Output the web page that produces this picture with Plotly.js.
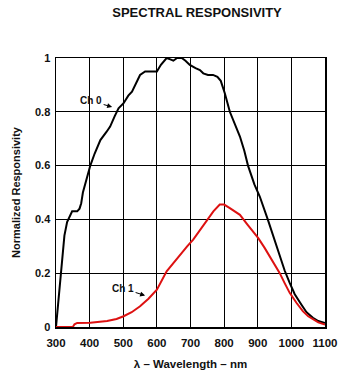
<!DOCTYPE html>
<html>
<head>
<meta charset="utf-8">
<script src="https://cdn.plot.ly/plotly-3.0.1.min.js"></script>
<style>html,body{margin:0;padding:0;background:#fff;}#chart{width:350px;height:378px;}</style>
</head>
<body>
<div id="chart"></div>
<script>
var ch0Wavelength = [300,305,310,315,320,325,333,340,348,355,363,370,375,380,390,402,415,432,450,461,475,486,501,515,526,540,550,565,580,600,612,629,640,649,660,674,685,698,715,728,738,752,767,780,790,802,817,832,847,860,871,890,906,930,950,965,980,995,1010,1030,1045,1064,1080,1100];
var ch0Response = [0,0.07,0.14,0.2,0.28,0.34,0.39,0.41,0.43,0.43,0.43,0.44,0.46,0.5,0.55,0.6,0.645,0.695,0.725,0.745,0.785,0.813,0.832,0.86,0.875,0.91,0.937,0.95,0.95,0.95,0.975,1.0,0.995,0.99,1.0,1.0,0.99,0.974,0.962,0.955,0.943,0.937,0.937,0.93,0.915,0.869,0.80,0.755,0.708,0.655,0.60,0.53,0.485,0.399,0.32,0.263,0.21,0.164,0.122,0.083,0.055,0.034,0.022,0.015];
var ch1Wavelength = [300,350,355,363,402,452,480,501,525,550,575,600,629,650,669,690,708,728,748,768,787,800,817,832,847,870,901,920,936,950,965,980,995,1015,1034,1050,1064,1080,1100];
var ch1Response = [0,0,0.01,0.015,0.016,0.022,0.03,0.04,0.055,0.077,0.105,0.139,0.207,0.24,0.27,0.3,0.325,0.36,0.399,0.43,0.455,0.455,0.442,0.43,0.417,0.38,0.331,0.295,0.263,0.235,0.201,0.163,0.127,0.09,0.059,0.04,0.028,0.017,0.009];
var xTicks = [300,400,500,600,700,800,900,1000,1100];
var yTickVals = [0,0.2,0.4,0.6,0.8,1];
var yTickText = ['0','0.2','0.4','0.6','0.8','1'];

var fontFam = 'Liberation Sans, Arial, Helvetica, sans-serif';
var traces = [
  {x: ch0Wavelength, y: ch0Response, mode: 'lines', name: 'Ch 0', line: {color: '#000000', width: 2}, hoverinfo: 'skip'},
  {x: ch1Wavelength, y: ch1Response, mode: 'lines', name: 'Ch 1', line: {color: '#dd1111', width: 2}, hoverinfo: 'skip'}
];
var layout = {
  width: 350, height: 378,
  margin: {l: 56, r: 25, t: 58, b: 51},
  paper_bgcolor: '#ffffff', plot_bgcolor: '#ffffff',
  showlegend: false,
  font: {family: fontFam, color: '#111111', size: 11, weight: 'bold'},
  title: {text: 'SPECTRAL RESPONSIVITY', font: {family: fontFam, size: 13, color: '#111111', weight: 'bold'},
          xref: 'container', yref: 'container', x: 0.563, y: 0.966, xanchor: 'center', yanchor: 'middle'},
  xaxis: {
    range: [300, 1100], tickvals: xTicks, ticktext: xTicks.map(String),
    showgrid: true, gridcolor: '#000000', gridwidth: 1,
    showline: true, linecolor: '#000000', linewidth: 1.5, mirror: true, zeroline: false,
    ticks: 'outside', ticklen: 5, tickcolor: 'rgba(0,0,0,0)',
    tickfont: {family: fontFam, size: 11.5, weight: 'bold', color: '#111111'},
    title: {text: 'λ – Wavelength – nm', font: {family: fontFam, size: 11.5, weight: 'bold', color: '#111111'}, standoff: 11}
  },
  yaxis: {
    range: [0, 1], tickvals: yTickVals, ticktext: yTickText,
    showgrid: true, gridcolor: '#000000', gridwidth: 1,
    showline: true, linecolor: '#000000', linewidth: 1.5, mirror: true, zeroline: false,
    ticks: 'outside', ticklen: 2, tickcolor: 'rgba(0,0,0,0)',
    tickfont: {family: fontFam, size: 11, weight: 'bold', color: '#111111'},
    title: {text: 'Normalized Responsivity', font: {family: fontFam, size: 11, weight: 'bold', color: '#111111'}, standoff: 12}
  },
  annotations: [
    {x: 467, y: 0.818, xref: 'x', yref: 'y', text: 'Ch 0', showarrow: true, arrowhead: 2, arrowsize: 1, arrowwidth: 1,
     arrowcolor: '#000000', ax: -21, ay: -6, font: {family: fontFam, size: 10, weight: 'bold', color: '#111111'}},
    {x: 565, y: 0.117, xref: 'x', yref: 'y', text: 'Ch 1', showarrow: true, arrowhead: 2, arrowsize: 1, arrowwidth: 1,
     arrowcolor: '#000000', ax: -22, ay: -7, font: {family: fontFam, size: 10, weight: 'bold', color: '#111111'}}
  ]
};
Plotly.newPlot('chart', traces, layout, {staticPlot: true, displayModeBar: false});
</script>
</body>
</html>
